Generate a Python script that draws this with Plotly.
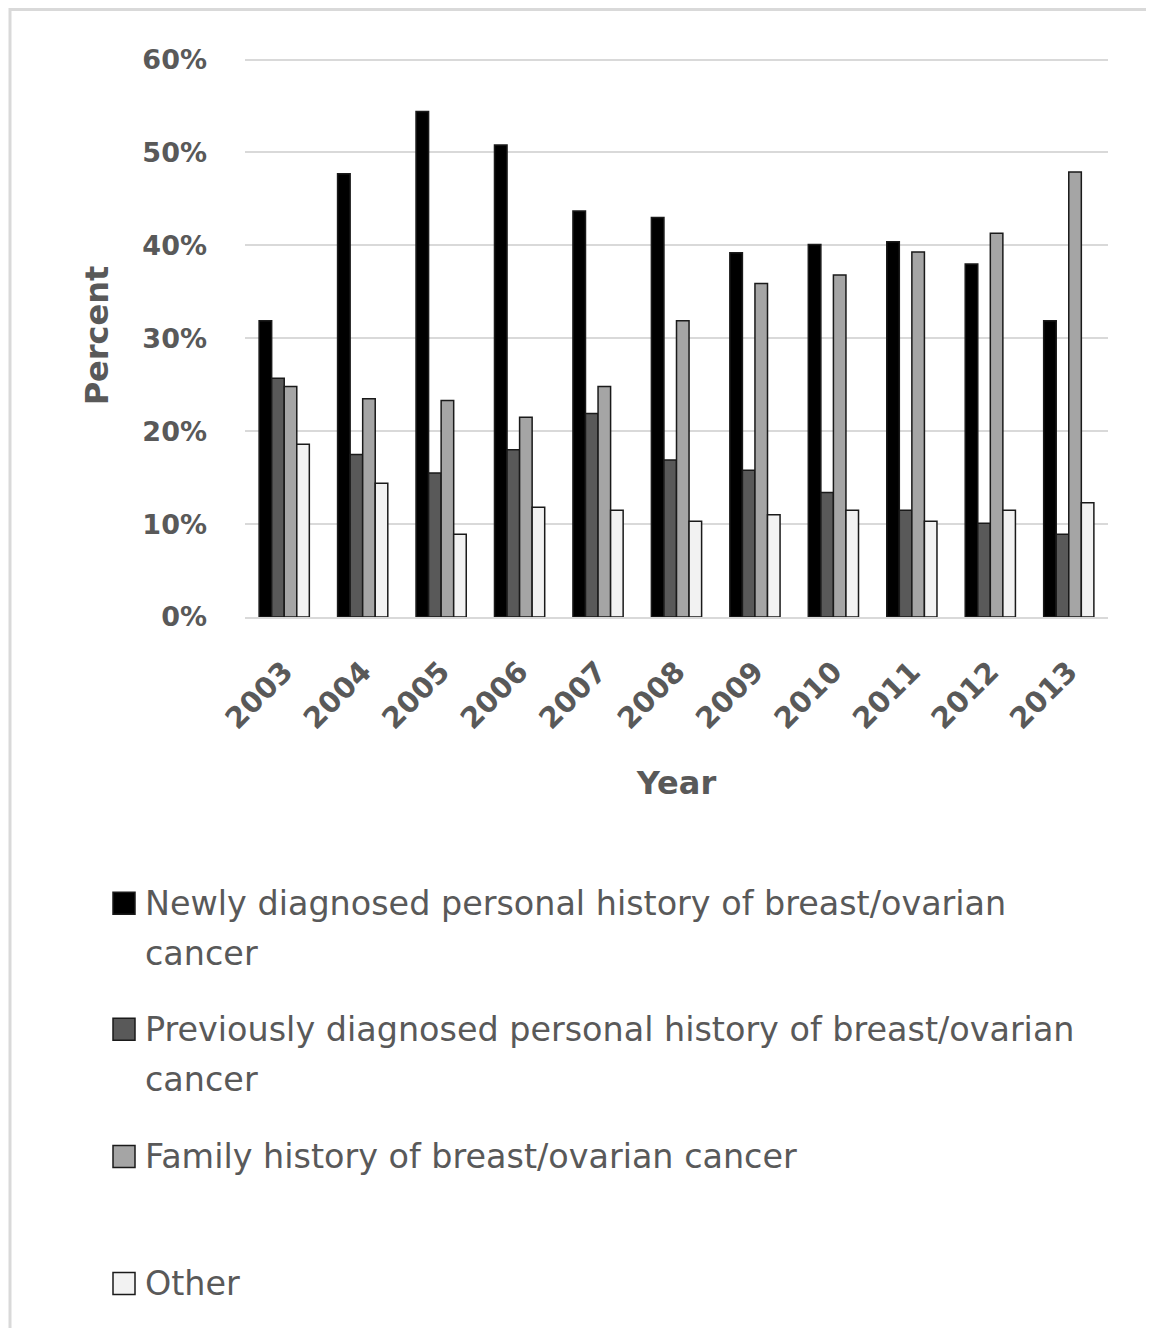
import plotly.graph_objects as go

years = ["2003", "2004", "2005", "2006", "2007", "2008", "2009", "2010", "2011", "2012", "2013"]
newly = [31.9, 47.7, 54.4, 50.8, 43.7, 43.0, 39.2, 40.1, 40.4, 38.0, 31.9]
previously = [25.7, 17.5, 15.5, 18.0, 21.9, 16.9, 15.8, 13.4, 11.5, 10.1, 8.9]
family = [24.8, 23.5, 23.3, 21.5, 24.8, 31.9, 35.9, 36.8, 39.3, 41.3, 47.9]
other = [18.6, 14.4, 8.9, 11.8, 11.5, 10.3, 11.0, 11.5, 10.3, 11.5, 12.3]

series_names = [
    "Newly diagnosed personal history of breast/ovarian cancer",
    "Previously diagnosed personal history of breast/ovarian cancer",
    "Family history of breast/ovarian cancer",
    "Other",
]
# how the legend text wraps in the reference
legend_lines = [
    ["Newly diagnosed personal history of breast/ovarian", "cancer"],
    ["Previously diagnosed personal history of breast/ovarian", "cancer"],
    ["Family history of breast/ovarian cancer"],
    ["Other"],
]
colors = ["#000000", "#595959", "#a5a5a5", "#f2f2f2"]
values = [newly, previously, family, other]

OFF = 8  # default page body margin
W, H = 1154 - 2 * OFF, 1336 - 2 * OFF
YMAX = 0.606
# plot area in page pixels (reference), converted to figure pixels
L, R = 245 - OFF, 1108 - OFF
B = 617 - OFF
T = B - (B - (60 - OFF)) * YMAX / 0.6
TXT = "#595959"

fig = go.Figure()
for name, vals, col in zip(series_names, values, colors):
    fig.add_trace(go.Bar(
        x=years, y=[v / 100 for v in vals], name=name,
        marker=dict(color=col, line=dict(color="#1a1a1a", width=1.5)),
        showlegend=False,
    ))

def px(xp):
    # page x -> paper x
    return (xp - OFF - L) / (R - L)

def py(yp):
    # page y -> paper y
    return (B - (yp - OFF)) / (B - T)

shapes = []
annotations = []
# outer frame
shapes.append(dict(type="rect", xref="paper", yref="paper",
                   x0=px(10), x1=px(1151), y0=py(10), y1=py(1345),
                   line=dict(color="#d9d9d9", width=3), fillcolor="rgba(0,0,0,0)", layer="below"))

# custom legend (symbol aligned with first text line, Excel-like spacing)
item_y = [903, 1029, 1156, 1283]
line_gap = 50
sq = 22
for lines, col, y0 in zip(legend_lines, colors, item_y):
    shapes.append(dict(type="rect", xref="paper", yref="paper",
                       x0=px(113), x1=px(113 + sq), y0=py(y0 - sq / 2), y1=py(y0 + sq / 2),
                       fillcolor=col, line=dict(color="#1a1a1a", width=1.5)))
    for i, t in enumerate(lines):
        annotations.append(dict(text=t, xref="paper", yref="paper",
                                x=px(143), y=py(y0 + i * line_gap), xanchor="left", yanchor="middle",
                                showarrow=False, font=dict(family="DejaVu Sans", size=33.4, color=TXT)))

fig.update_layout(
    width=W, height=H,
    margin=dict(l=L, r=W - R, t=T, b=H - B, pad=0),
    paper_bgcolor="white", plot_bgcolor="white",
    barmode="group", bargap=0.36, bargroupgap=0,
    shapes=shapes, annotations=annotations,
    showlegend=False,
    font=dict(family="DejaVu Sans", color=TXT),
)
fig.update_yaxes(
    range=[0, YMAX], dtick=0.1, tickformat=".0%",
    showgrid=True, gridcolor="#d9d9d9", gridwidth=2,
    zeroline=False, showline=False, ticks="",
    tickfont=dict(family="DejaVu Sans", size=27, color=TXT, weight="bold"),
    ticklabelstandoff=37,
    title=dict(text="<b>Percent</b>", font=dict(family="DejaVu Sans", size=32, color=TXT), standoff=24),
)
fig.update_xaxes(
    type="category", tickangle=-45,
    showline=True, linecolor="#d9d9d9", linewidth=2, showgrid=False, ticks="",
    tickfont=dict(family="DejaVu Sans", size=29, color=TXT, weight="bold"),
    ticklabelstandoff=24,
    title=dict(text="<b>Year</b>", font=dict(family="DejaVu Sans", size=32, color=TXT), standoff=37),
)

fig.write_html("out.html")
